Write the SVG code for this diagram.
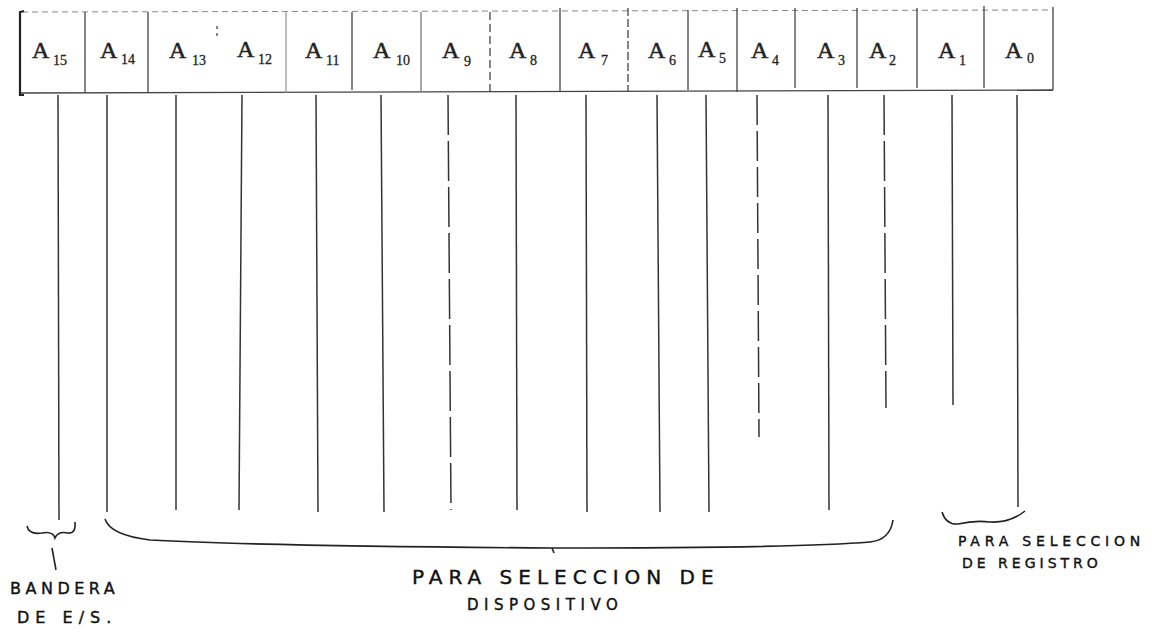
<svg xmlns="http://www.w3.org/2000/svg" width="1152" height="632" viewBox="0 0 1152 632">
<style>
.a{font-family:"Liberation Serif",serif;font-size:24px;fill:#222;stroke:#222;stroke-width:0.5}
.s{font-family:"Liberation Serif",serif;font-size:14px;fill:#222;stroke:#222;stroke-width:0.3}
.box{stroke:#444;stroke-width:1.3;fill:none}
.dash{stroke:#888;stroke-width:1;stroke-dasharray:6 4;fill:none}
.ln{stroke:#333;stroke-width:1.5;fill:none}
.br{stroke:#222;stroke-width:1.6;fill:none}
.t{font-family:"DejaVu Sans",sans-serif;fill:#111;stroke:#111;stroke-width:0.4}
</style>
<rect width="1152" height="632" fill="#fff"/>
<g id="register">
<line class="dash" x1="22" y1="12" x2="1053" y2="10"/>
<line class="box" x1="20" y1="93" x2="1053" y2="90"/>
<path d="M24 11 L20 12 L20 95 L24 95" stroke="#222" stroke-width="2.2" fill="none"/>
<line class="box" x1="1053" y1="7" x2="1053" y2="90"/>
<g stroke="#444" stroke-width="1.3">
<line x1="85" y1="12" x2="85" y2="93"/>
<line x1="148" y1="12" x2="148" y2="93"/>
<line x1="217" y1="26" x2="217" y2="40" stroke-dasharray="3 4"/>
<line x1="286" y1="12" x2="286" y2="93" stroke="#999"/>
<line x1="352" y1="12" x2="352" y2="90"/>
<line x1="421" y1="12" x2="421" y2="92" stroke="#777"/>
<line x1="490" y1="12" x2="490" y2="92" stroke-dasharray="8 4"/>
<line x1="560" y1="8" x2="560" y2="92"/>
<line x1="628" y1="8" x2="628" y2="92" stroke-dasharray="8 3"/>
<line x1="688" y1="10" x2="688" y2="90"/>
<line x1="737" y1="8" x2="737" y2="92"/>
<line x1="795" y1="8" x2="795" y2="88"/>
<line x1="857" y1="8" x2="857" y2="88"/>
<line x1="917" y1="8" x2="917" y2="88"/>
<line x1="984" y1="6" x2="984" y2="88"/>
</g>
</g>
<g id="bits">
<text class="a" x="32" y="58">A</text><text class="s" x="53" y="65">15</text>
<text class="a" x="100" y="58">A</text><text class="s" x="121" y="64">14</text>
<text class="a" x="169" y="58">A</text><text class="s" x="192" y="65">13</text>
<text class="a" x="237" y="57">A</text><text class="s" x="258" y="64">12</text>
<text class="a" x="305" y="58">A</text><text class="s" x="326" y="65">11</text>
<text class="a" x="373" y="58">A</text><text class="s" x="396" y="65">10</text>
<text class="a" x="442" y="58">A</text><text class="s" x="464" y="66">9</text>
<text class="a" x="509" y="58">A</text><text class="s" x="530" y="65">8</text>
<text class="a" x="578" y="58">A</text><text class="s" x="601" y="65">7</text>
<text class="a" x="648" y="58">A</text><text class="s" x="669" y="65">6</text>
<text class="a" x="698" y="57">A</text><text class="s" x="719" y="63">5</text>
<text class="a" x="751" y="58">A</text><text class="s" x="772" y="65">4</text>
<text class="a" x="817" y="58">A</text><text class="s" x="838" y="65">3</text>
<text class="a" x="869" y="58">A</text><text class="s" x="889" y="65">2</text>
<text class="a" x="938" y="58">A</text><text class="s" x="959" y="65">1</text>
<text class="a" x="1005" y="58">A</text><text class="s" x="1027" y="63">0</text>
</g>
<g id="connectors">
<line class="ln" x1="58" y1="95" x2="59" y2="520" stroke-width="2"/>
<line class="ln" x1="107" y1="95" x2="107" y2="512"/>
<line class="ln" x1="176" y1="95" x2="176" y2="510"/>
<line class="ln" x1="242" y1="95" x2="239" y2="510"/>
<line class="ln" x1="316" y1="95" x2="318" y2="512"/>
<line class="ln" x1="381" y1="95" x2="384" y2="512"/>
<line class="ln" x1="448" y1="95" x2="451" y2="510" stroke-dasharray="40 6"/>
<line class="ln" x1="516" y1="95" x2="517" y2="510"/>
<line class="ln" x1="586" y1="95" x2="587" y2="512"/>
<line class="ln" x1="657" y1="95" x2="660" y2="512"/>
<line class="ln" x1="706" y1="95" x2="709" y2="512" stroke-width="2"/>
<line class="ln" x1="757" y1="95" x2="759" y2="437" stroke-dasharray="30 6"/>
<line class="ln" x1="828" y1="95" x2="829" y2="510"/>
<line class="ln" x1="884" y1="95" x2="886" y2="408" stroke-dasharray="40 6"/>
<line class="ln" x1="952" y1="95" x2="953" y2="405"/>
<line class="ln" x1="1017" y1="95" x2="1018" y2="507"/>
</g>
<g id="brace-bandera">
<path class="br" d="M27 526 Q29 535 42 533 Q53 531 55 538 Q58 531 68 533 Q76 534 75 522"/>
<line class="br" x1="52" y1="548" x2="56" y2="570"/>
<text class="t" x="10" y="594" font-size="16" letter-spacing="4.5">BANDERA</text>
<text class="t" x="17" y="623" font-size="16" letter-spacing="6">DE E/S.</text>
</g>
<g id="brace-dispositivo">
<path class="br" d="M105 519 Q110 535 150 540 Q260 546 553 548 Q800 548 870 542 Q890 540 893 520"/>
<line class="br" x1="552" y1="548" x2="554" y2="553"/>
<text class="t" x="412" y="584" font-size="20" letter-spacing="6">PARA SELECCION DE</text>
<text class="t" x="467" y="610" font-size="15" letter-spacing="5.5">DISPOSITIVO</text>
</g>
<g id="brace-registro">
<path class="br" d="M942 512 Q946 525 958 524 Q975 520 990 522 Q1010 523 1025 511"/>
<text class="t" x="958" y="546" font-size="14" letter-spacing="4.8">PARA SELECCION</text>
<text class="t" x="962" y="568" font-size="14" letter-spacing="4">DE REGISTRO</text>
</g>
</svg>
